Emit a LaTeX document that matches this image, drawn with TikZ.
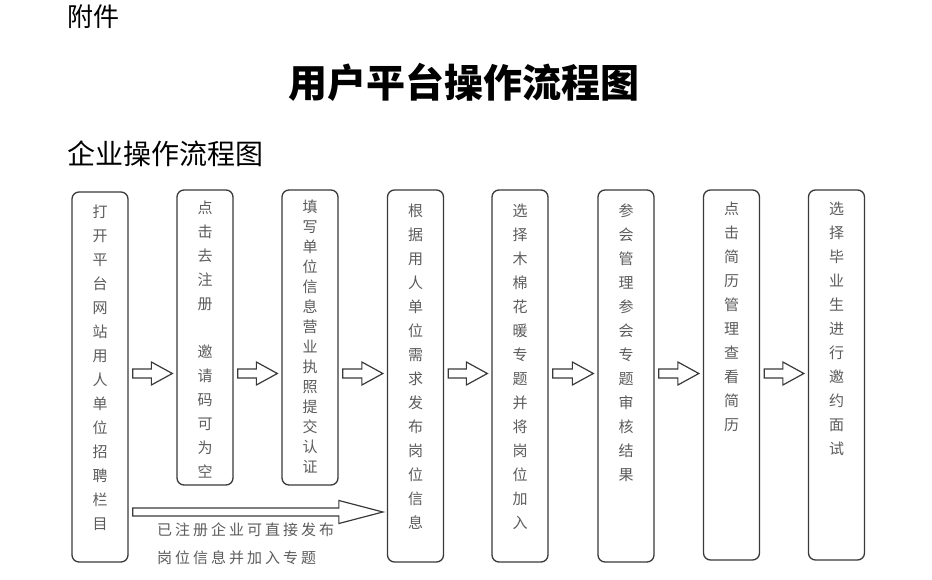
\documentclass[tikz,border=0pt]{standalone}
\usepackage{fontspec}
\newfontfamily\cjk{Noto Sans CJK SC}
\newfontfamily\cjkwide[LetterSpace=20]{Noto Sans CJK SC}
\usetikzlibrary{calc}
\definecolor{boxline}{HTML}{3A3A3A}
\definecolor{boxtext}{HTML}{5C5C5C}
\tikzset{
  stepbox/.style={draw=boxline, line width=1.3pt, rounded corners=7pt, minimum width=56pt, inner sep=0pt},
  vtext/.style={anchor=north, inner sep=0pt, align=center, text=boxtext, font=\cjk\fontsize{15}{24}\selectfont},
  vtextnarrow/.style={vtext, font=\cjk\fontsize{15}{20}\selectfont},
  fat/.style={draw=boxline, line width=1.2pt, fill=white, line join=miter},
}
% #1 start node, #2 end node, #3 row coordinate, #4 shaft half, #5 head half, #6 head length
\newcommand\fatarrow[6]{%
  \draw[fat] let \p1=(#1.east |- #3), \p2=(#2.west |- #3) in
    (\x1+4pt,\y1+#4) -- (\x2-4pt-#6,\y1+#4) -- (\x2-4pt-#6,\y1+#5) -- (\x2-4pt,\y1)
    -- (\x2-4pt-#6,\y1-#5) -- (\x2-4pt-#6,\y1-#4) -- (\x1+4pt,\y1-#4) -- cycle;}
\begin{document}
\begin{tikzpicture}[x=1pt,y=-1pt]
\useasboundingbox[fill=white] (0,0) rectangle (932,580);

\node[anchor=west, inner sep=0pt, font=\cjk\fontsize{26}{26}\selectfont] (att) at (67,17) {附件};
\node[inner sep=0pt, font=\cjk\bfseries\fontsize{39}{39}\selectfont] (title) at (464,82) {用户平台操作流程图};
\node[anchor=west, inner sep=0pt, font=\cjk\fontsize{28}{28}\selectfont] (sub) at (67,154) {企业操作流程图};

\node[stepbox, minimum height=370pt] (b1) at (100,377) {};
\node[stepbox, minimum height=295pt] (b2) at (205,337.5) {};
\node[stepbox, minimum height=295pt] (b3) at (310,337.5) {};
\node[stepbox, minimum height=372pt] (b4) at (415.5,376) {};
\node[stepbox, minimum height=372pt] (b5) at (520,376) {};
\node[stepbox, minimum height=372pt] (b6) at (626,376) {};
\node[stepbox, minimum height=370pt] (b7) at (731.5,375) {};
\node[stepbox, minimum height=370pt] (b8) at (836.5,375) {};

\node[vtext] (t1) at ([yshift=-13.5pt]b1.north) {打\\开\\平\\台\\网\\站\\用\\人\\单\\位\\招\\聘\\栏\\目};
\node[vtext] (t2) at ([yshift=-11.5pt]b2.north) {点\\击\\去\\注\\册\\[24pt]邀\\请\\码\\可\\为\\空};
\node[vtextnarrow] (t3) at ([yshift=-10.5pt]b3.north) {填\\写\\单\\位\\信\\息\\营\\业\\执\\照\\提\\交\\认\\证};
\node[vtext] (t4) at ([yshift=-14.5pt]b4.north) {根\\据\\用\\人\\单\\位\\需\\求\\发\\布\\岗\\位\\信\\息};
\node[vtext] (t5) at ([yshift=-14.5pt]b5.north) {选\\择\\木\\棉\\花\\暖\\专\\题\\并\\将\\岗\\位\\加\\入};
\node[vtext] (t6) at ([yshift=-14.5pt]b6.north) {参\\会\\管\\理\\参\\会\\专\\题\\审\\核\\结\\果};
\node[vtext] (t7) at ([yshift=-12.5pt]b7.north) {点\\击\\简\\历\\管\\理\\查\\看\\简\\历};
\node[vtext] (t8) at ([yshift=-12.5pt]b8.north) {选\\择\\毕\\业\\生\\进\\行\\邀\\约\\面\\试};

\coordinate (row) at (0,373.5);
\coordinate (row2) at (0,512);
\fatarrow{b1}{b2}{row}{4.5pt}{11.5pt}{21pt}
\fatarrow{b2}{b3}{row}{4.5pt}{11.5pt}{21pt}
\fatarrow{b3}{b4}{row}{4.5pt}{11.5pt}{21pt}
\fatarrow{b4}{b5}{row}{4.5pt}{11.5pt}{21pt}
\fatarrow{b5}{b6}{row}{4.5pt}{11.5pt}{21pt}
\fatarrow{b6}{b7}{row}{4.5pt}{11.5pt}{21pt}
\fatarrow{b7}{b8}{row}{4.5pt}{11.5pt}{21pt}
\fatarrow{b1}{b4}{row2}{4pt}{11.5pt}{44pt}

\node[anchor=north west, inner sep=0pt, align=left, text=boxtext, font=\cjkwide\fontsize{15}{27.5}\selectfont] (lbl) at (157,523) {已注册企业可直接发布\\岗位信息并加入专题};
\end{tikzpicture}
\end{document}
